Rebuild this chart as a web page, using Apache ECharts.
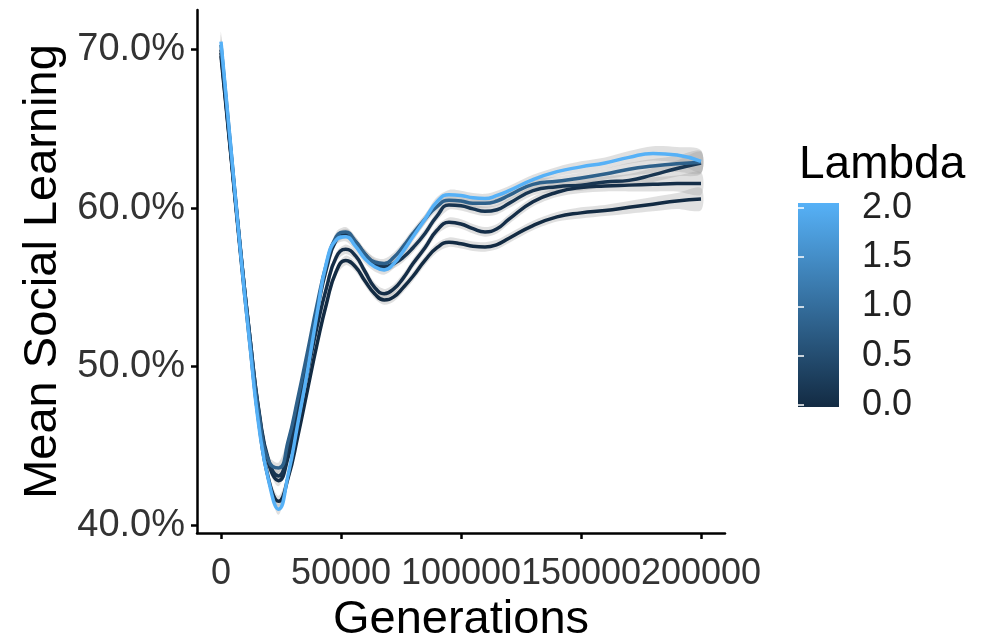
<!DOCTYPE html>
<html><head><meta charset="utf-8">
<script src="https://cdn.jsdelivr.net/npm/echarts@6/dist/echarts.min.js"></script>
<style>html,body{margin:0;padding:0;background:#fff}#c{width:982px;height:643px}</style>
</head><body><div id="c"></div>
<script>
// ---- data ----
const generations = [0,4000,8000,12000,16000,20000,24000,28000,32000,36000,40000,44000,48000,52000,56000,60000,64000,68000,72000,76000,80000,85000,90000,95000,100000,105000,110000,115000,120000,130000,140000,150000,160000,170000,180000,190000,200000];
const lambdas = [0, 0.05, 0.15, 0.8, 2.0];
const social_l0   = [69.6,63.5,57.3,51.5,46.2,42.8,41.5,43.0,45.6,48.5,51.4,54.0,56.0,56.7,56.3,55.4,54.6,54.2,54.4,55.0,55.7,56.7,57.5,57.85,57.75,57.6,57.55,57.7,58.1,58.9,59.45,59.7,59.85,60.05,60.25,60.45,60.57];
const social_l005 = [69.8,63.6,57.5,51.9,46.9,43.8,42.8,44.3,46.8,49.6,52.5,55.0,56.9,57.4,57.0,56.0,55.0,54.6,54.9,55.6,56.5,57.5,58.6,59.1,59.0,58.7,58.5,58.7,59.3,60.4,61.0,61.3,61.4,61.45,61.5,61.55,61.55];
const social_l015 = [70.0,63.7,57.5,51.9,47.0,44.0,43.1,44.8,47.5,50.5,53.5,56.2,58.0,58.4,57.9,57.1,56.5,56.3,56.5,56.9,57.5,58.4,59.5,60.2,60.15,59.95,59.8,59.9,60.3,61.1,61.35,61.45,61.65,61.75,62.1,62.5,62.85];
const social_l08  = [70.3,63.9,57.6,51.8,46.8,44.0,43.6,45.3,48.0,50.9,53.9,56.5,58.2,58.5,57.9,57.1,56.6,56.5,56.9,57.6,58.4,59.3,60.1,60.5,60.45,60.3,60.3,60.45,60.8,61.5,61.7,61.9,62.15,62.45,62.65,62.8,62.9];
const social_l2   = [70.5,64.0,57.4,51.4,46.0,42.7,41.0,43.2,46.4,49.7,53.3,56.6,58.0,58.2,57.6,56.8,56.3,56.1,56.5,57.3,58.2,59.3,60.4,60.85,60.8,60.65,60.6,60.8,61.1,61.8,62.3,62.6,62.85,63.2,63.45,63.35,62.95];
const ciHalf      = [0.6,0.4,0.35,0.35,0.35,0.35,0.35,0.35,0.3,0.3,0.3,0.3,0.3,0.3,0.3,0.3,0.3,0.3,0.3,0.3,0.3,0.3,0.3,0.3,0.3,0.3,0.3,0.3,0.3,0.3,0.3,0.35,0.35,0.4,0.45,0.5,0.7];
const xTicks = [0,50000,100000,150000,200000];
const yTicks = [40,50,60,70];
const lambdaTicks = [0,0.5,1,1.5,2];
const seriesValues = [social_l0, social_l005, social_l015, social_l08, social_l2];

const LOW = '#132B43', HIGH = '#56B1F7';
function hex2rgb(h){return [1,3,5].map(i=>parseInt(h.substr(i,2),16));}
function colorFor(l){
  const a=hex2rgb(LOW), b=hex2rgb(HIGH), t=l/2;
  return 'rgb('+a.map((v,i)=>Math.round(v+(b[i]-v)*t)).join(',')+')';
}
const FONT = '"Liberation Sans", Arial, sans-serif';

const series = [];
// confidence ribbons (drawn through the axis scales with api.coord)
seriesValues.forEach((vals, i) => {
  series.push({type:'custom', silent:true, z:1, data:[[0, i]],
    renderItem:(params, api)=>{
      const upper = generations.map((g,k)=>api.coord([g, vals[k]+ciHalf[k]]));
      const lower = generations.map((g,k)=>api.coord([g, vals[k]-ciHalf[k]])).reverse();
      return {type:'polygon', shape:{points: upper.concat(lower), smooth:0.3},
        style:{fill:'rgba(153,153,153,0.3)', stroke:null}};
    }});
});
seriesValues.forEach((vals, i) => {
  series.push({type:'line', symbol:'none', smooth:true, z:3,
    lineStyle:{width:3.5, color: colorFor(lambdas[i])},
    data: generations.map((g,k)=>[g, vals[k]])});
});
// colour bar
series.push({type:'custom', xAxisIndex:1, yAxisIndex:1, silent:true, z:2,
  data:[[0,0]],
  renderItem:(params, api)=>{
    const p0 = api.coord([0, -0.02]), p1 = api.coord([1, 2.05]);
    return {type:'rect', shape:{x:p0[0], y:p1[1], width:p1[0]-p0[0], height:p0[1]-p1[1]},
      style:{fill:new echarts.graphic.LinearGradient(0,1,0,0,[{offset:0,color:LOW},{offset:1,color:HIGH}])}};
  }});

const chart = echarts.init(document.getElementById('c'), null, {renderer:'canvas'});
chart.setOption({
  animation:false,
  textStyle:{fontFamily:FONT},
  title:{text:'Lambda', left:794, top:137, textStyle:{fontSize:46, fontWeight:'normal', color:'#000', fontFamily:FONT}},
  grid:[{left:197, right:257, top:10, bottom:110, containLabel:false, outerBoundsMode:'none'},
        {left:798, top:203, width:41, height:204, containLabel:false, outerBoundsMode:'none'}],
  xAxis:[{type:'value', min:-10000, max:210000,
    axisLine:{onZero:false, lineStyle:{color:'#000', width:2.5}},
    axisTick:{customValues:xTicks, length:6, lineStyle:{color:'#000', width:2.5}},
    axisLabel:{customValues:xTicks, fontSize:36, color:'#333', margin:23, formatter:v=>String(v)},
    splitLine:{show:false},
    name:'Generations', nameLocation:'middle', nameGap:62,
    nameTextStyle:{fontSize:47, color:'#000'}},
    {gridIndex:1, type:'value', min:0, max:1, show:false}],
  yAxis:[{type:'value', min:39.5, max:72.5,
    axisLine:{show:true, onZero:false, lineStyle:{color:'#000', width:2.5}},
    axisTick:{show:true, customValues:yTicks, length:6, lineStyle:{color:'#000', width:2.5}},
    axisLabel:{customValues:yTicks, fontSize:38, color:'#333', margin:12, formatter:v=>v.toFixed(1)+'%'},
    splitLine:{show:false},
    name:'Mean Social Learning', nameLocation:'middle', nameGap:128, nameRotate:90,
    nameTextStyle:{fontSize:47, color:'#000'}},
    {gridIndex:1, type:'value', min:-0.02, max:2.05, position:'right', z:5,
      axisLine:{show:false},
      axisTick:{show:true, inside:true, length:6, customValues:lambdaTicks, lineStyle:{color:'#fff', width:1.5}},
      axisLabel:{customValues:lambdaTicks, fontSize:36, color:'#222', margin:23, formatter:v=>v.toFixed(1)},
      splitLine:{show:false}},
    {gridIndex:1, type:'value', min:-0.02, max:2.05, position:'left', z:5,
      axisLine:{show:false},
      axisTick:{show:true, inside:true, length:6, customValues:lambdaTicks, lineStyle:{color:'#fff', width:1.5}},
      axisLabel:{show:false}, splitLine:{show:false}}],
  series
});
</script></body></html>
